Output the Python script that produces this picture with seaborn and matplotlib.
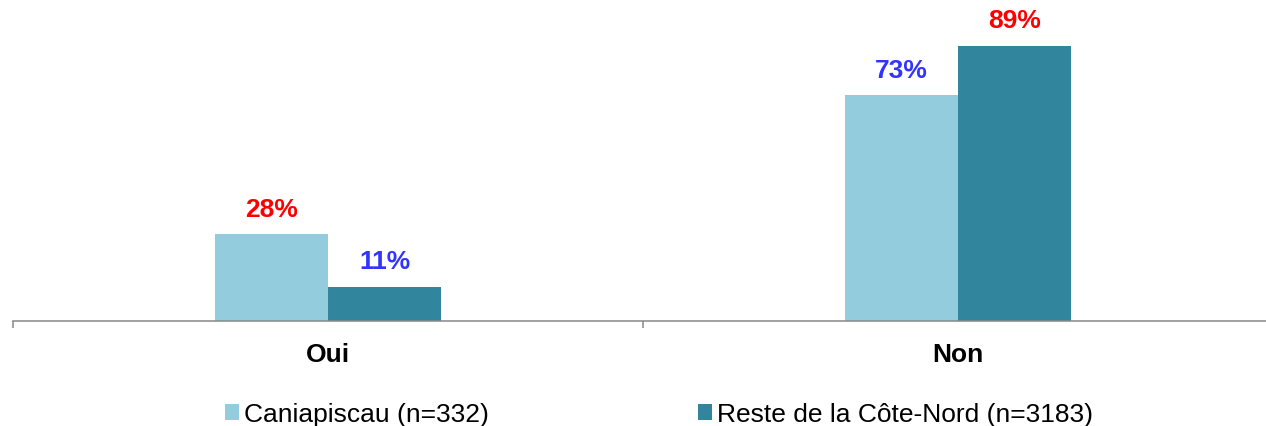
import matplotlib
matplotlib.use('Agg')
import matplotlib.pyplot as plt
import seaborn as sns
import pandas as pd

# data
categories = ['Oui', 'Non']
series_names = ['Caniapiscau (n=332)', 'Reste de la Côte-Nord (n=3183)']
caniapiscau = [28, 73]
reste = [11, 89]

df = pd.DataFrame({
    'reponse': categories * 2,
    'groupe': [series_names[0]] * 2 + [series_names[1]] * 2,
    'pct': caniapiscau + reste,
})

sns.set_style('white')
plt.rcParams['font.family'] = ['Liberation Sans', 'DejaVu Sans']

fig = plt.figure(figsize=(12.66, 4.27), dpi=100)
ax = fig.add_axes([13 / 1266, 105 / 427, 1260 / 1266, 322 / 427])

pal = ['#93CDDD', '#31859C']
sns.barplot(data=df, x='reponse', y='pct', hue='groupe', palette=pal,
            width=0.36, gap=0, ax=ax, legend=True, saturation=1, linewidth=0)

ax.set_xlim(-0.5, 1.5)
ax.set_ylim(0, 104.2)
ax.set_xlabel('')
ax.set_ylabel('')
ax.set_yticks([])
for s in ['left', 'top', 'right']:
    ax.spines[s].set_visible(False)
ax.spines['bottom'].set_color('#888888')
ax.spines['bottom'].set_linewidth(1.1)

ax.set_xticks([0, 1])
ax.set_xticklabels(categories, fontsize=19, fontweight='bold', color='black')
ax.tick_params(axis='x', which='major', length=0, pad=15)
ax.set_xticks([-0.5, 0.5, 1.5], minor=True)
ax.tick_params(axis='x', which='minor', bottom=True, length=5,
               color='#888888', width=1.1)

# value labels: red for the higher value of each group, blue for the lower
for container, vals in zip(ax.containers, [caniapiscau, reste]):
    for i, (bar, v) in enumerate(zip(container, vals)):
        top = max(caniapiscau[i], reste[i])
        col = '#FF0000' if v == top else '#3333FF'
        ax.annotate(f'{v}%', (bar.get_x() + bar.get_width() / 2, v),
                    xytext=(0, 18.5), textcoords='offset points',
                    ha='center', va='center', fontsize=19,
                    fontweight='bold', color=col)

ax.legend_.remove()
handles, labels = ax.get_legend_handles_labels()
leg = fig.legend(handles, labels, loc='center',
                 bbox_to_anchor=(659 / 1266, 11.5 / 427),
                 ncol=2, frameon=False, fontsize=19, handlelength=0.53,
                 handleheight=0.53, handletextpad=0.19, columnspacing=7.95)
for t in leg.get_texts():
    t.set_color('black')

fig.savefig('out.png', dpi=100)
